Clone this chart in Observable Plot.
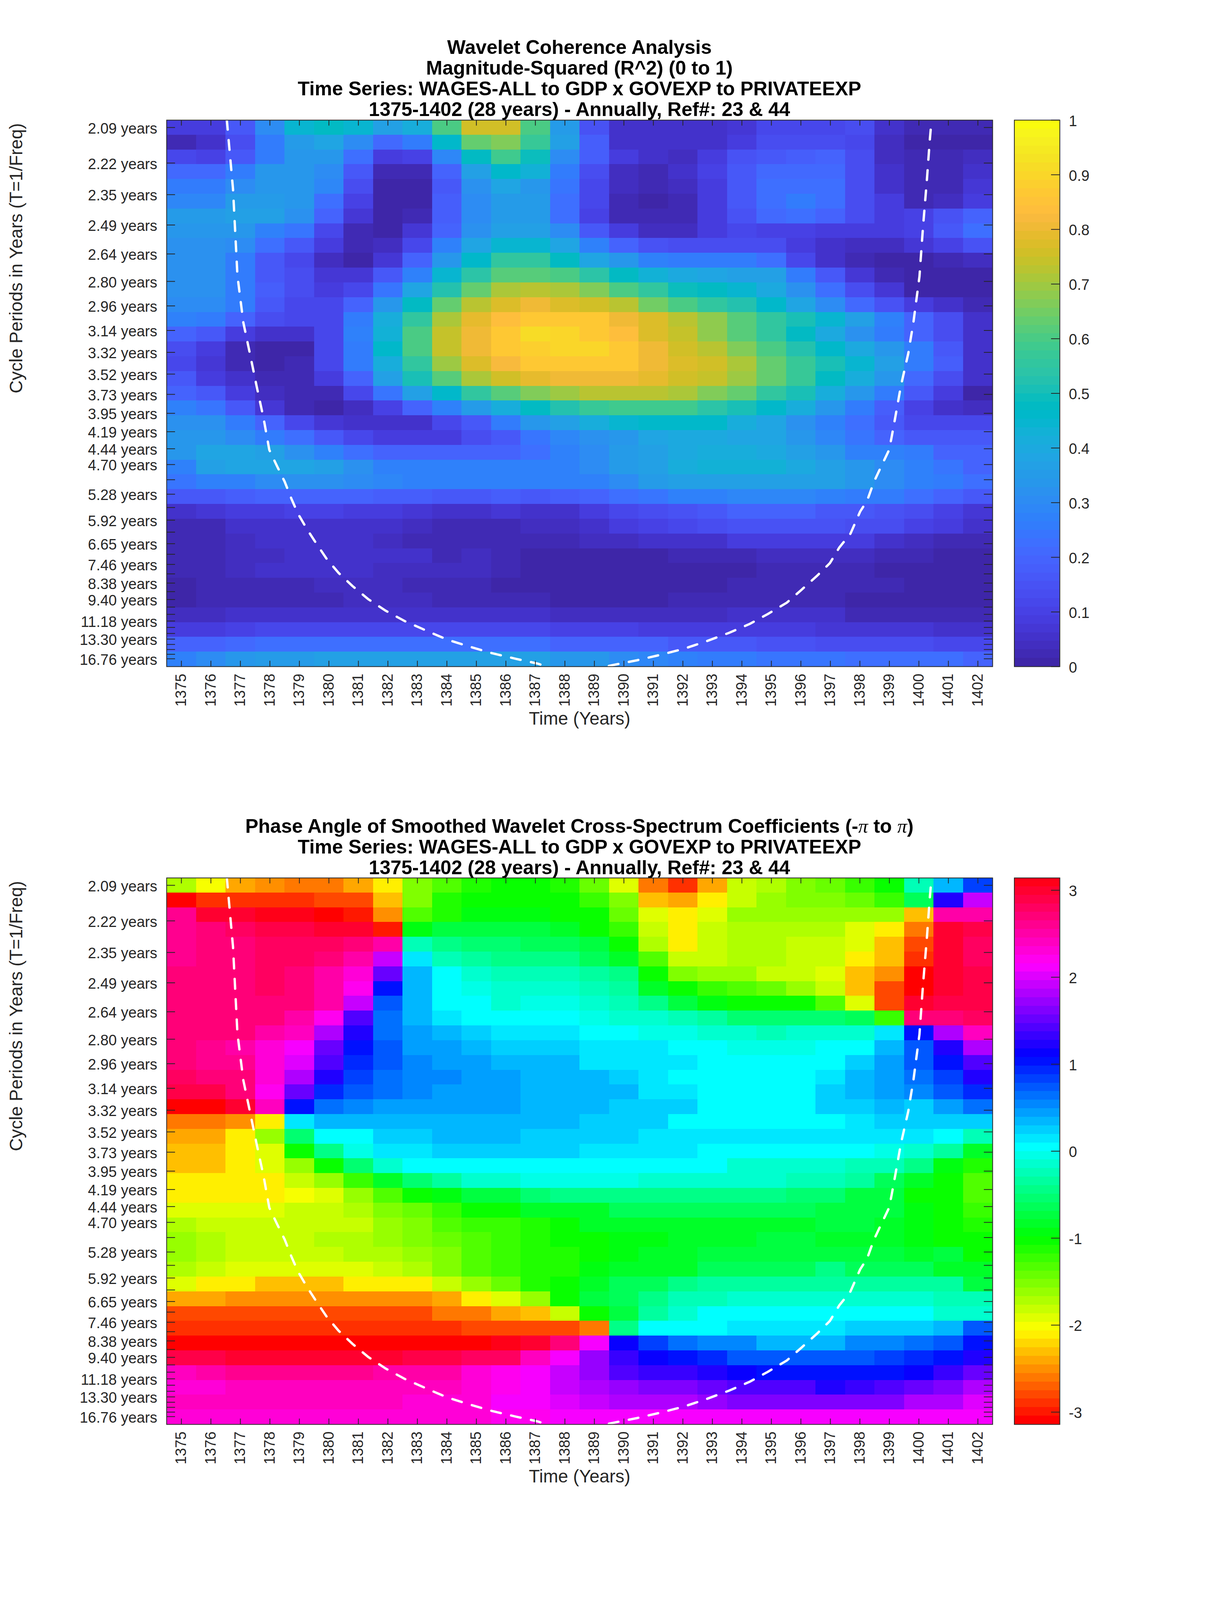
<!DOCTYPE html>
<html>
<head>
<meta charset="utf-8">
<title>Wavelet Coherence Analysis</title>
<script src="https://cdn.jsdelivr.net/npm/d3@7"></script>
<script src="https://cdn.jsdelivr.net/npm/@observablehq/plot@0.6"></script>
<style>
html,body{margin:0;padding:0;background:#fff}
body{font-family:"Liberation Sans",Arial,sans-serif}
#root{width:3125px;height:4096px;position:relative;overflow:hidden}
.title{width:2966px;text-align:center;white-space:nowrap;font-weight:700;font-size:50px;line-height:52.9px;color:#000}
.title i{font-family:"Liberation Serif",serif;font-style:italic;font-weight:400}
.row{display:flex;width:3125px}
.row svg{flex:none}
</style>
</head>
<body>
<div id="root"></div>
<script>
// ---- shared axis values ----
const years = d3.range(1375, 1403);
const periods = [2.09,2.22,2.35,2.49,2.64,2.80,2.96,3.14,3.32,3.52,3.73,3.95,4.19,4.44,4.70,4.98,5.28,5.59,5.92,6.27,6.65,7.04,7.46,7.90,8.38,8.88,9.40,9.96,10.56,11.18,11.85,12.56,13.30,14.09,14.93,15.82,16.76];
const labelledPeriods = [2.09,2.22,2.35,2.49,2.64,2.80,2.96,3.14,3.32,3.52,3.73,3.95,4.19,4.44,4.70,5.28,5.92,6.65,7.46,8.38,9.40,11.18,13.30,16.76];

// ---- cone of influence ----
const coiYear = [1376.54,1376.75,1376.90,1377.10,1377.31,1377.55,1377.79,1377.98,1378.24,1378.50,1378.73,1378.95,1379.27,1379.50,1379.92,1380.33,1380.80,1381.33,1381.93,1382.58,1383.28,1384.00,1384.77,1385.53,1386.34,1387.07,1387.40,1388.50,1389.49,1390.45,1391.27,1392.04,1392.79,1393.56,1394.25,1394.88,1395.52,1396.02,1396.53,1396.98,1397.30,1397.68,1398.01,1398.25,1398.47,1398.68,1398.99,1399.07,1399.19,1399.39,1399.64,1399.82,1400.02,1400.14,1400.27,1400.37,1400.43];
const coiPeriod = [2.064,2.326,2.765,3.079,3.316,3.642,4.02,4.458,4.725,5.017,5.382,5.744,6.196,6.531,7.215,7.855,8.546,9.37,10.26,11.2,12.18,13.36,14.45,15.61,16.77,17.89,18.7,21.5,18.5,17.09,15.89,14.8,13.62,12.49,11.5,10.53,9.63,8.77,8.02,7.41,6.79,6.32,5.69,5.42,5.03,4.78,4.458,4.28,4.02,3.64,3.33,3.07,2.77,2.50,2.29,2.134,2.064];

// ---- panel 1: magnitude-squared coherence, one list per cycle period ----
const r01=[.09,.08,.17,.31,.44,.48,.44,.37,.42,.60,.75,.75,.60,.35,.15,.05,.05,.05,.05,.07,.11,.12,.12,.13,.06,.03,.03,.03];
const r02=[.03,.06,.13,.25,.35,.39,.30,.21,.26,.46,.64,.67,.57,.37,.18,.06,.05,.05,.05,.08,.13,.14,.14,.12,.04,.01,.01,.01];
const r03=[.11,.10,.17,.25,.33,.33,.22,.08,.10,.29,.48,.58,.49,.30,.18,.08,.05,.04,.09,.15,.17,.18,.19,.13,.04,.02,.02,.04];
const r04=[.21,.21,.25,.33,.34,.31,.17,.02,.02,.20,.37,.46,.43,.26,.13,.04,.03,.05,.10,.16,.21,.21,.21,.13,.06,.02,.02,.06];
const r05=[.26,.26,.31,.34,.34,.29,.14,.01,.01,.16,.32,.39,.33,.24,.12,.04,.02,.04,.09,.17,.22,.23,.22,.13,.06,.03,.03,.07];
const r06=[.29,.29,.35,.35,.33,.23,.10,.01,.01,.18,.30,.35,.35,.23,.11,.03,.00,.03,.08,.16,.22,.25,.22,.14,.08,.03,.04,.09];
const r07=[.35,.35,.36,.36,.32,.19,.07,.01,.03,.18,.30,.35,.35,.23,.10,.03,.02,.03,.08,.15,.21,.22,.20,.13,.09,.10,.15,.20];
const r08=[.34,.34,.33,.28,.24,.12,.02,.01,.07,.20,.32,.37,.37,.30,.17,.08,.04,.04,.08,.12,.10,.10,.09,.09,.09,.10,.16,.23];
const r09=[.32,.32,.30,.22,.16,.08,.02,.04,.12,.27,.39,.44,.45,.38,.28,.19,.15,.14,.14,.14,.13,.09,.06,.04,.04,.07,.10,.15];
const r10=[.32,.32,.26,.16,.12,.04,.01,.07,.20,.33,.46,.55,.55,.48,.38,.33,.28,.25,.25,.25,.22,.12,.06,.02,.00,.01,.02,.04];
const r11=[.32,.32,.25,.17,.14,.07,.07,.16,.28,.44,.54,.61,.62,.60,.54,.48,.43,.40,.39,.37,.37,.26,.16,.07,.02,.00,.00,.01];
const r12=[.32,.32,.25,.18,.14,.09,.12,.24,.39,.53,.63,.71,.72,.71,.67,.60,.55,.49,.47,.45,.40,.32,.23,.14,.07,.01,.00,.00];
const r13=[.31,.31,.25,.17,.12,.11,.19,.34,.47,.63,.73,.78,.80,.78,.76,.72,.65,.60,.55,.52,.46,.39,.30,.21,.15,.09,.06,.03];
const r14=[.28,.26,.20,.13,.11,.12,.25,.41,.55,.71,.79,.83,.86,.86,.86,.81,.78,.73,.68,.61,.56,.50,.45,.36,.28,.20,.13,.05];
const r15=[.20,.17,.09,.05,.05,.12,.27,.43,.60,.74,.81,.87,.91,.90,.87,.83,.78,.74,.68,.62,.55,.48,.40,.32,.25,.20,.14,.05];
const r16=[.13,.08,.03,.00,.01,.12,.26,.46,.60,.74,.80,.87,.89,.90,.90,.86,.81,.76,.72,.67,.60,.53,.46,.40,.33,.25,.17,.06];
const r17=[.11,.07,.03,.00,.02,.12,.26,.42,.56,.70,.77,.82,.87,.87,.87,.86,.81,.77,.75,.71,.64,.57,.51,.44,.36,.25,.18,.06];
const r18=[.16,.09,.06,.02,.02,.09,.20,.37,.50,.62,.71,.76,.79,.80,.80,.80,.79,.76,.74,.69,.64,.57,.48,.41,.33,.21,.14,.05];
const r19=[.20,.16,.08,.04,.03,.03,.12,.24,.36,.46,.55,.62,.66,.70,.72,.72,.72,.71,.66,.64,.56,.50,.42,.34,.25,.16,.08,.01];
const r20=[.27,.24,.17,.07,.03,.01,.04,.10,.19,.28,.35,.42,.48,.52,.57,.59,.59,.59,.54,.51,.46,.41,.34,.26,.18,.10,.05,.04];
const r21=[.32,.32,.26,.20,.12,.07,.06,.06,.06,.12,.17,.25,.33,.36,.41,.45,.46,.46,.46,.42,.39,.32,.28,.22,.17,.12,.11,.11];
const r22=[.33,.33,.30,.26,.22,.16,.12,.09,.09,.09,.14,.16,.24,.29,.32,.34,.38,.40,.40,.39,.39,.33,.29,.24,.20,.17,.17,.17];
const r23=[.34,.38,.38,.37,.32,.28,.23,.19,.19,.19,.19,.19,.23,.27,.31,.35,.36,.40,.41,.41,.40,.36,.34,.28,.27,.25,.20,.20];
const r24=[.28,.37,.38,.38,.38,.37,.32,.28,.27,.27,.27,.27,.27,.27,.31,.35,.36,.42,.43,.43,.43,.40,.37,.33,.31,.28,.24,.20];
const r25=[.24,.27,.28,.31,.32,.32,.31,.29,.27,.27,.27,.28,.27,.27,.27,.31,.35,.37,.37,.37,.37,.37,.37,.33,.31,.27,.25,.22];
const r26=[.16,.17,.18,.19,.20,.20,.20,.18,.18,.17,.17,.18,.17,.18,.19,.23,.24,.27,.28,.29,.29,.29,.27,.26,.26,.23,.20,.16];
const r27=[.06,.07,.08,.09,.10,.10,.09,.08,.07,.06,.06,.07,.05,.06,.08,.12,.13,.15,.17,.19,.20,.19,.17,.16,.15,.13,.10,.07];
const r28=[.03,.03,.05,.06,.06,.06,.06,.05,.04,.03,.03,.03,.04,.04,.05,.09,.10,.12,.13,.15,.15,.15,.15,.14,.13,.10,.08,.06];
const r29=[.02,.03,.04,.05,.05,.05,.05,.04,.03,.02,.02,.02,.02,.02,.04,.04,.05,.05,.06,.08,.08,.08,.08,.08,.06,.04,.03,.03];
const r30=[.02,.03,.04,.04,.05,.06,.05,.05,.05,.03,.04,.02,.01,.01,.01,.01,.01,.03,.03,.03,.04,.04,.04,.04,.03,.03,.01,.01];
const r31=[.02,.03,.04,.06,.06,.06,.06,.04,.04,.04,.04,.03,.01,.01,.01,.01,.01,.01,.01,.01,.02,.02,.02,.02,.00,.01,.01,.01];
const r32=[.01,.02,.03,.03,.03,.04,.04,.04,.03,.03,.03,.01,.01,.01,.01,.01,.01,.01,.01,.02,.02,.02,.02,.02,.02,.01,.01,.01];
const r33=[.01,.02,.03,.03,.03,.03,.04,.04,.04,.03,.02,.02,.02,.01,.01,.01,.01,.02,.02,.02,.02,.03,.03,.01,.01,.01,.01,.00];
const r34=[.04,.04,.05,.06,.06,.06,.06,.06,.06,.05,.05,.05,.05,.04,.04,.04,.04,.04,.04,.05,.05,.05,.05,.03,.03,.03,.02,.02];
const r35=[.09,.09,.10,.11,.11,.11,.11,.11,.11,.11,.11,.11,.11,.10,.10,.10,.09,.09,.09,.09,.09,.09,.07,.07,.07,.07,.05,.05];
const r36=[.19,.20,.21,.22,.22,.22,.22,.22,.22,.22,.22,.22,.22,.20,.19,.19,.19,.17,.16,.16,.15,.15,.13,.13,.13,.13,.12,.11];
const r37=[.28,.31,.33,.35,.35,.36,.36,.36,.36,.36,.36,.36,.36,.34,.33,.31,.29,.27,.26,.25,.24,.24,.24,.23,.23,.22,.22,.20];
const coherence=[r01,r02,r03,r04,r05,r06,r07,r08,r09,r10,r11,r12,r13,r14,r15,r16,r17,r18,r19,r20,r21,r22,r23,r24,r25,r26,r27,r28,r29,r30,r31,r32,r33,r34,r35,r36,r37];

// ---- panel 2: phase angle, one list per cycle period ----
const p01=[-1.76,-2.0,-2.36,-2.55,-2.65,-2.65,-2.44,-2.09,-1.53,-1.3,-1.1,-1.05,-1.05,-1.1,-1.4,-1.9,-2.65,-2.85,-2.36,-1.85,-1.68,-1.5,-1.42,-1.2,-1.0,-.2,.38,.8];
const p02=[-3.05,-2.92,-2.92,-2.92,-2.92,-2.82,-2.75,-2.27,-1.55,-1.15,-1.05,-1.05,-1.05,-1.05,-1.2,-1.55,-2.27,-2.38,-2.09,-1.77,-1.6,-1.55,-1.55,-1.42,-1.2,-.65,1.2,1.95];
const p03=[2.62,2.96,3.0,3.05,3.05,-3.13,-3.0,-2.55,-1.35,-1.1,-.95,-.95,-.95,-1.0,-1.05,-1.42,-1.95,-2.15,-1.95,-1.62,-1.62,-1.62,-1.62,-1.62,-1.62,-2.27,2.55,2.55];
const p04=[2.58,2.7,2.78,2.88,2.9,2.95,2.95,-3.0,-.95,-.75,-.75,-.75,-.72,-.82,-1.0,-1.2,-1.85,-2.09,-1.85,-1.75,-1.75,-1.75,-1.75,-1.9,-2.09,-2.65,2.95,2.88];
const p05=[2.58,2.68,2.68,2.78,2.78,2.78,2.72,2.48,-.22,-.45,-.55,-.55,-.6,-.62,-.72,-1.05,-1.7,-2.09,-1.82,-1.75,-1.75,-1.83,-1.83,-1.95,-2.27,-2.75,2.95,2.82];
const p06=[2.58,2.7,2.7,2.78,2.78,2.68,2.55,1.87,.14,-.2,-.3,-.42,-.4,-.45,-.62,-.8,-1.35,-1.85,-1.85,-1.75,-1.75,-1.83,-1.83,-2.09,-2.27,-2.9,2.95,2.82];
const p07=[2.7,2.7,2.7,2.75,2.68,2.55,2.3,1.5,.3,0,-.15,-.25,-.22,-.25,-.38,-.45,-1.05,-1.55,-1.62,-1.62,-1.78,-1.85,-1.95,-2.3,-2.55,-3.05,2.95,2.92];
const p08=[2.7,2.7,2.7,2.8,2.72,2.55,2.2,1.0,.3,0,-.07,-.13,-.13,-.13,-.25,-.38,-.8,-1.05,-1.2,-1.32,-1.42,-1.6,-1.83,-2.27,-2.75,-3.13,2.95,2.92];
const p09=[2.7,2.7,2.7,2.7,2.7,2.5,1.9,.75,.3,.08,0,-.1,-.05,-.05,-.15,-.2,-.45,-.72,-.95,-1.0,-1.05,-1.05,-1.32,-1.95,-2.75,2.95,2.85,2.9];
const p10=[2.7,2.7,2.7,2.7,2.55,2.25,1.38,.65,.32,.18,.08,0,0,0,-.07,-.1,-.12,-.2,-.35,-.52,-.55,-.55,-.58,-.65,-1.25,2.72,2.68,2.82];
const p11=[2.7,2.7,2.7,2.47,2.42,1.78,1.2,.62,.42,.3,.22,.1,.13,.13,0,0,-.04,-.05,-.13,-.15,-.2,-.15,-.13,-.1,.18,1.0,1.85,2.42];
const p12=[2.7,2.58,2.55,2.33,2.09,1.57,1.05,.75,.48,.42,.38,.2,.22,.22,.1,.1,.1,0,0,-.03,-.03,-.03,0,.08,.3,.75,1.2,1.78];
const p13=[2.66,2.6,2.58,2.32,2.0,1.4,.9,.7,.5,.42,.42,.3,.3,.3,.18,.18,.1,.1,0,0,0,0,.07,.2,.42,.72,1.05,1.4];
const p14=[2.78,2.7,2.68,2.28,1.78,1.2,.85,.62,.5,.5,.45,.42,.33,.33,.33,.2,.18,.08,.08,.08,.08,.08,.18,.32,.42,.62,.85,1.2];
const p15=[2.85,2.85,2.72,2.25,1.5,.95,.72,.62,.52,.42,.42,.42,.35,.35,.35,.32,.18,.18,.08,.08,.08,.08,.2,.32,.42,.55,.7,.9];
const p16=[-3.05,-3.13,3.0,2.4,1.0,.65,.52,.42,.42,.42,.42,.42,.35,.35,.35,.2,.2,.2,.08,.08,.08,.08,.2,.2,.3,.27,.45,.62];
const p17=[-2.65,-2.65,-2.55,-2.09,.1,.3,.3,.3,.3,.3,.3,.3,.33,.33,.2,.2,.2,.08,.08,.08,.08,.08,.08,.1,.2,.2,.2,.2];
const p18=[-2.36,-2.36,-2.15,-1.62,-.55,0,.08,.2,.2,.3,.3,.33,.22,.22,.22,.22,.1,.1,.1,.1,.1,.1,.1,.1,.1,.1,0,-.2];
const p19=[-2.27,-2.27,-2.15,-1.9,-1.05,-.4,-.07,.1,.1,.2,.2,.2,.2,.2,.1,.1,.1,.1,0,0,0,0,0,0,-.07,-.1,-.35,-.85];
const p20=[-2.27,-2.27,-2.15,-1.95,-1.62,-1.05,-.55,-.17,0,0,.08,.08,.08,.08,0,0,0,0,0,-.1,-.1,-.1,-.1,-.2,-.28,-.42,-.95,-1.15];
const p21=[-2.15,-2.15,-2.15,-2.09,-1.85,-1.6,-1.2,-.88,-.55,-.3,-.18,-.15,-.05,-.05,-.05,-.05,-.15,-.15,-.15,-.15,-.15,-.25,-.25,-.38,-.62,-.88,-1.05,-1.35];
const p22=[-2.09,-2.09,-2.09,-2.09,-1.98,-1.92,-1.6,-1.28,-1.05,-.95,-.72,-.7,-.5,-.4,-.4,-.4,-.4,-.4,-.4,-.4,-.4,-.52,-.52,-.72,-.78,-1.0,-1.05,-1.35];
const p23=[-1.95,-1.95,-1.95,-1.95,-1.85,-1.85,-1.75,-1.5,-1.42,-1.18,-1.05,-1.05,-.87,-.8,-.8,-.68,-.68,-.68,-.68,-.68,-.68,-.68,-.78,-.78,-.78,-.98,-1.05,-1.25];
const p24=[-1.7,-1.85,-1.85,-1.85,-1.85,-1.78,-1.78,-1.65,-1.55,-1.35,-1.2,-1.2,-1.1,-1.0,-.88,-.88,-.8,-.8,-.8,-.8,-.8,-.8,-.78,-.78,-.8,-.98,-1.0,-1.15];
const p25=[-1.62,-1.75,-1.85,-1.85,-1.85,-1.75,-1.75,-1.62,-1.55,-1.42,-1.3,-1.2,-1.1,-1.05,-1.0,-.92,-.92,-.8,-.8,-.8,-.75,-.75,-.85,-.85,-.85,-.92,-1.0,-1.05];
const p26=[-1.6,-1.75,-1.85,-1.85,-1.85,-1.85,-1.75,-1.72,-1.6,-1.48,-1.32,-1.25,-1.15,-1.1,-1.0,-.92,-.8,-.8,-.7,-.7,-.7,-.7,-.75,-.75,-.75,-.82,-.72,-1.0];
const p27=[-1.7,-1.82,-1.95,-1.95,-1.95,-1.95,-1.95,-1.83,-1.72,-1.55,-1.35,-1.25,-1.15,-1.1,-.92,-.8,-.8,-.8,-.68,-.68,-.68,-.68,-.45,-.62,-.62,-.62,-.8,-.82];
const p28=[-1.95,-2.09,-2.15,-2.27,-2.27,-2.27,-2.15,-2.15,-2.09,-1.85,-1.62,-1.45,-1.15,-1.05,-.88,-.62,-.62,-.42,-.38,-.38,-.3,-.3,-.3,-.3,-.3,-.38,-.38,-.7];
const p29=[-2.36,-2.45,-2.55,-2.55,-2.55,-2.55,-2.55,-2.48,-2.48,-2.36,-2.15,-1.95,-1.6,-1.05,-.78,-.62,-.4,-.25,-.25,-.15,-.15,-.15,-.15,-.15,-.15,-.15,-.22,-.22];
const p30=[-2.75,-2.75,-2.75,-2.75,-2.75,-2.75,-2.75,-2.75,-2.75,-2.65,-2.65,-2.45,-2.27,-1.85,-1.05,-.7,-.35,-.18,0,0,0,0,0,0,0,0,-.1,-.15];
const p31=[-2.92,-2.92,-2.92,-2.92,-2.92,-2.92,-2.92,-2.92,-2.92,-2.92,-2.82,-2.82,-2.82,-2.82,-2.65,-.45,0,.08,.08,.15,.15,.15,.15,.27,.27,.27,.38,.72];
const p32=[-3.13,-3.13,-3.13,-3.05,-3.05,-3.05,-3.05,-3.05,-3.13,-3.13,-3.13,3.05,2.95,2.68,2.15,1.15,.82,.62,.5,.5,.38,.38,.38,.5,.5,.62,.72,1.05];
const p33=[2.85,2.92,3.0,3.0,3.0,3.0,3.0,2.95,2.92,2.88,2.82,2.78,2.4,2.15,1.75,1.3,1.12,1.05,.9,.75,.75,.72,.72,.72,.85,.98,1.05,1.27];
const p34=[2.42,2.48,2.62,2.62,2.62,2.62,2.62,2.55,2.48,2.48,2.32,2.22,2.1,1.9,1.7,1.47,1.35,1.28,1.2,1.12,1.05,1.05,1.05,1.05,1.05,1.12,1.3,1.5];
const p35=[2.32,2.32,2.45,2.45,2.45,2.45,2.45,2.45,2.38,2.38,2.3,2.2,2.12,1.92,1.78,1.7,1.62,1.62,1.5,1.42,1.38,1.38,1.25,1.35,1.4,1.5,1.62,1.78];
const p36=[2.38,2.38,2.38,2.38,2.38,2.38,2.38,2.38,2.3,2.3,2.3,2.13,2.13,2.02,1.88,1.85,1.78,1.78,1.68,1.62,1.62,1.62,1.62,1.62,1.62,1.78,1.85,1.98];
const p37=[2.33,2.33,2.33,2.33,2.33,2.33,2.33,2.33,2.33,2.33,2.27,2.2,2.2,2.13,2.1,2.09,2.09,2.09,2.09,2.09,2.09,2.09,2.09,2.09,2.09,2.09,2.12,2.12];
const phase=[p01,p02,p03,p04,p05,p06,p07,p08,p09,p10,p11,p12,p13,p14,p15,p16,p17,p18,p19,p20,p21,p22,p23,p24,p25,p26,p27,p28,p29,p30,p31,p32,p33,p34,p35,p36,p37];

// ---- colormaps ----
const parula64 = [[.2422,.1504,.6603],[.2504,.165,.7076],[.2578,.1818,.7511],[.2647,.1978,.7952],[.2706,.2147,.8364],[.2751,.2342,.871],[.2783,.2559,.8991],[.2803,.2782,.9221],[.2813,.3006,.9414],[.281,.3228,.9579],[.2795,.3447,.9717],[.276,.3667,.9829],[.2699,.3892,.9906],[.2602,.4123,.9952],[.244,.4358,.9988],[.2206,.4603,.9973],[.1963,.4847,.9892],[.1834,.5074,.9798],[.1786,.5289,.9682],[.1764,.5499,.952],[.1687,.5703,.9359],[.154,.5902,.9218],[.146,.6091,.9079],[.138,.6276,.8973],[.1248,.6459,.8883],[.1113,.6635,.8763],[.0952,.6798,.8598],[.0689,.6948,.8394],[.0297,.7082,.8163],[.0036,.7203,.7917],[.0067,.7312,.766],[.0433,.7411,.7394],[.0964,.75,.712],[.1408,.7584,.6842],[.1717,.767,.6554],[.1938,.7758,.6251],[.2161,.7843,.5923],[.247,.7918,.5567],[.2906,.7973,.5188],[.3406,.8008,.4789],[.3909,.8029,.4354],[.4456,.8024,.3909],[.5044,.7993,.348],[.5616,.7942,.3045],[.6174,.7876,.2612],[.672,.7793,.2227],[.7242,.7698,.191],[.7738,.7598,.1646],[.8203,.7498,.1535],[.8634,.7406,.1596],[.9035,.733,.1774],[.9393,.7288,.21],[.9728,.7298,.2394],[.9956,.7434,.2371],[.997,.7659,.2199],[.9952,.7861,.199],[.9892,.8136,.1794],[.9786,.8386,.1624],[.9676,.8639,.1489],[.961,.889,.1371],[.9597,.9135,.1291],[.9628,.9373,.1265],[.9691,.9606,.1064],[.9763,.9831,.0538]]
  .map(([r,g,b]) => d3.rgb(r*255,g*255,b*255).formatHex());
const hsv64 = d3.range(64).map(i => d3.hsl(i/64*360,1,.5).formatHex());

// ---- rendering ----
// The browser window is capped at 3125x4096, so the reference's vertical layout is fitted into that height.
const ink = "#262626";
const plotW = 2114, plotH = 1399;
const marginL = 426, marginB = 170;
const pxPerCycle = 3247.5;
const fTop = 1/2.09 + (plotH/37/2)/pxPerCycle;
const fBottom = fTop - plotH/pxPerCycle;
const rowEdge = i => fTop - i*(fTop-fBottom)/37;
const tickFont = 38, labelFont = 46;

function heatmap(matrix, domain, colors){
  matrix.forEach((r,i)=>{ if(r.length!==28) throw new Error("row "+i+" has "+r.length); });
  const lo=domain[0], hi=domain[1], n=colors.length, step=(hi-lo)/n;
  const thresholds=d3.range(1,n).map(i=>lo+i*step);
  const cells=matrix.flatMap((row,i)=>row.map((v,j)=>({year:years[j],i,v})));
  const coi=coiYear.map((x,i)=>({x,y:1/coiPeriod[i]}));
  const freqs=periods.map(p=>1/p), lab=labelledPeriods.map(p=>1/p);
  const tkX=14.5, tkY=22;
  return Plot.plot({
    width:marginL+plotW+20, height:plotH+marginB, marginLeft:marginL, marginRight:20, marginTop:0, marginBottom:marginB,
    style:{background:"transparent",overflow:"visible",maxWidth:"none",fontFamily:"'Liberation Sans',Arial,sans-serif"},
    x:{domain:[1374.5,1402.5],axis:null}, y:{domain:[fBottom,fTop],axis:null},
    color:{type:"threshold",domain:thresholds,range:colors},
    marks:[
      Plot.rect(cells,{x1:d=>d.year-.5,x2:d=>d.year+.5,y1:d=>rowEdge(d.i),y2:d=>rowEdge(d.i+1),fill:"v",shapeRendering:"crispEdges"}),
      Plot.line(coi,{x:"x",y:"y",stroke:"#fff",strokeWidth:6,strokeDasharray:"25,27",clip:true}),
      Plot.tickX(years,{x:d=>d,insetTop:plotH-tkX,stroke:ink,strokeWidth:2}),
      Plot.tickX(years,{x:d=>d,insetBottom:plotH-tkX,stroke:ink,strokeWidth:2}),
      Plot.tickY(freqs,{y:d=>d,insetRight:plotW-tkY,stroke:ink,strokeWidth:2}),
      Plot.tickY(freqs,{y:d=>d,insetLeft:plotW-tkY,stroke:ink,strokeWidth:2}),
      Plot.frame({stroke:ink,strokeWidth:2}),
      Plot.axisY(lab,{anchor:"left",y:d=>d,tickSize:0,tickPadding:24,dy:3,fontSize:tickFont,fill:ink,label:null,tickFormat:d=>(1/d).toFixed(2)+" years"}),
      Plot.axisX(years,{anchor:"bottom",x:d=>d,tickSize:0,tickPadding:18,tickRotate:-90,fontSize:tickFont,fill:ink,label:null,tickFormat:d=>String(d)}),
      Plot.text(["Time (Years)"],{frameAnchor:"bottom",dy:134,lineAnchor:"middle",fontSize:labelFont,fill:ink}),
      Plot.text(["Cycle Periods in Years (T=1/Freq)"],{frameAnchor:"left",rotate:-90,dx:-384,lineAnchor:"middle",fontSize:labelFont,fill:ink})
    ]
  });
}

function colorbar(domain, colors, ticks){
  const lo=domain[0], hi=domain[1], n=colors.length, step=(hi-lo)/n;
  const thresholds=d3.range(1,n).map(i=>lo+i*step);
  const barW=116.4;
  const levels=d3.range(n).map(i=>lo+(i+.5)*step);
  return Plot.plot({
    width:565, height:plotH+marginB, marginLeft:35.6, marginRight:413, marginTop:0, marginBottom:marginB,
    style:{background:"transparent",overflow:"visible",maxWidth:"none",fontFamily:"'Liberation Sans',Arial,sans-serif"},
    x:{domain:[0,1],axis:null}, y:{domain,axis:null},
    color:{type:"threshold",domain:thresholds,range:colors},
    marks:[
      Plot.rect(levels,{x1:0,x2:1,y1:d=>d-step/2,y2:d=>d+step/2,fill:d=>d,shapeRendering:"crispEdges"}),
      Plot.tickY(ticks,{y:d=>d,insetLeft:barW-22,stroke:ink,strokeWidth:2}),
      Plot.frame({stroke:ink,strokeWidth:2}),
      Plot.axisY(ticks,{anchor:"right",y:d=>d,tickSize:0,tickPadding:23,dy:3,fontSize:tickFont,fill:ink,label:null,textAnchor:"start",tickFormat:d=>String(d)})
    ]
  });
}

function panel(titleLines, padTop, matrix, domain, colors, ticks){
  const box=document.createElement("div");
  const t=document.createElement("div");
  t.className="title"; t.style.paddingTop=padTop+"px";
  t.innerHTML=titleLines.join("<br>");
  const row=document.createElement("div"); row.className="row";
  row.append(heatmap(matrix,domain,colors), colorbar(domain,colors,ticks));
  box.append(t,row);
  return box;
}

const root=document.getElementById("root");
root.append(
  panel(["Wavelet Coherence Analysis","Magnitude-Squared (R^2) (0 to 1)","Time Series: WAGES-ALL to GDP x GOVEXP to PRIVATEEXP","1375-1402 (28 years) - Annually, Ref#: 23 &amp; 44"],
        95.4, coherence, [0,1], parula64, [0,.1,.2,.3,.4,.5,.6,.7,.8,.9,1]),
  panel(["Phase Angle of Smoothed Wavelet Cross-Spectrum Coefficients (-<i>π</i> to <i>π</i>)","Time Series: WAGES-ALL to GDP x GOVEXP to PRIVATEEXP","1375-1402 (28 years) - Annually, Ref#: 23 &amp; 44"],
        212.7, phase, [-Math.PI,Math.PI], hsv64, [-3,-2,-1,0,1,2,3])
);
</script>
</body>
</html>
